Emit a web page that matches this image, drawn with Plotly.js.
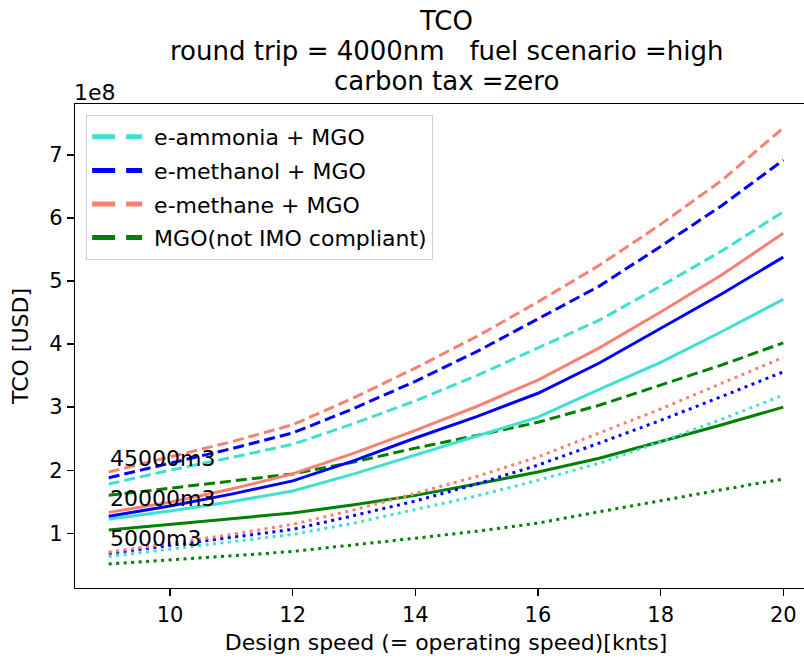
<!DOCTYPE html>
<html>
<head>
<meta charset="utf-8">
<script src="https://cdn.plot.ly/plotly-3.0.1.min.js"></script>
<style>
html,body{margin:0;padding:0;overflow:hidden;background:#fff;}
#chart{width:822px;height:660px;}
</style>
</head>
<body>
<div id="chart"></div>
<script>
// Design speed [knots]
const speeds = [9, 10, 11, 12, 13, 14, 15, 16, 17, 18, 19, 20];

// TCO values in units of 1e8 USD
// 45000 m3 (dashed)
const ammonia45000  = [1.78, 2.00, 2.20, 2.41, 2.74, 3.10, 3.50, 3.94, 4.38, 4.92, 5.48, 6.10];
const methanol45000 = [1.88, 2.11, 2.34, 2.59, 2.98, 3.41, 3.88, 4.40, 4.92, 5.55, 6.20, 6.92];
const methane45000  = [1.97, 2.21, 2.45, 2.72, 3.15, 3.62, 4.12, 4.67, 5.25, 5.90, 6.60, 7.43];
const mgo45000      = [1.60, 1.71, 1.82, 1.94, 2.13, 2.35, 2.55, 2.76, 3.03, 3.35, 3.67, 4.02];
// 20000 m3 (solid)
const ammonia20000  = [1.22, 1.35, 1.50, 1.67, 1.94, 2.24, 2.53, 2.84, 3.28, 3.71, 4.20, 4.71];
const methanol20000 = [1.27, 1.43, 1.62, 1.83, 2.15, 2.51, 2.85, 3.22, 3.70, 4.25, 4.80, 5.38];
const methane20000  = [1.33, 1.49, 1.70, 1.94, 2.27, 2.63, 3.01, 3.43, 3.94, 4.51, 5.10, 5.76];
const mgo20000      = [1.05, 1.14, 1.23, 1.32, 1.45, 1.60, 1.78, 1.97, 2.19, 2.45, 2.72, 3.00];
// 5000 m3 (dotted)
const ammonia5000   = [0.63, 0.75, 0.86, 0.98, 1.16, 1.37, 1.59, 1.84, 2.11, 2.45, 2.81, 3.19];
const methanol5000  = [0.68, 0.81, 0.93, 1.06, 1.28, 1.51, 1.78, 2.08, 2.43, 2.79, 3.17, 3.56];
const methane5000   = [0.70, 0.84, 0.98, 1.14, 1.37, 1.63, 1.90, 2.21, 2.59, 2.97, 3.38, 3.79];
const mgo5000       = [0.51, 0.57, 0.64, 0.71, 0.81, 0.92, 1.03, 1.16, 1.34, 1.52, 1.69, 1.86];

const fuelNames = ['e-ammonia + MGO', 'e-methanol + MGO', 'e-methane + MGO', 'MGO(not IMO compliant)'];
const fuelColors = ['#40E0D0', '#0000FF', '#FA8072', '#008000'];
const sizeLabels = ['45000m3', '20000m3', '5000m3'];

const groups = [
  {dash: '11px,5px', series: [ammonia45000, methanol45000, methane45000, mgo45000]},
  {dash: 'solid',    series: [ammonia20000, methanol20000, methane20000, mgo20000]},
  {dash: '3px,4.5px', series: [ammonia5000, methanol5000, methane5000, mgo5000]}
];

const traces = [];
groups.forEach(g => {
  g.series.forEach((vals, i) => {
    traces.push({
      x: speeds, y: vals, type: 'scatter', mode: 'lines',
      line: {color: fuelColors[i], width: 3, dash: g.dash},
      showlegend: false, hoverinfo: 'skip'
    });
  });
});
// legend entries
fuelNames.forEach((n, i) => {
  traces.push({
    x: [null], y: [null], type: 'scatter', mode: 'lines', name: '&nbsp;' + n,
    legendgroup: 'g' + i,
    line: {color: fuelColors[i], width: 5, dash: '23px,11px'},
    showlegend: true
  });
});

const ff = 'DejaVu Sans, sans-serif';
const font = {family: ff, size: 22, color: '#000'};
const tickFont = {family: ff, size: 21, color: '#000'};
const titleFont = {family: ff, size: 26, color: '#000'};
const plotTop = 104, plotBottom = 588, plotH = plotBottom - plotTop;
const py = p => (plotBottom - p) / plotH;

const annotations = [
  {text: 'TCO', xref: 'paper', yref: 'paper', x: 0.5, y: py(21), xanchor: 'center', yanchor: 'middle', showarrow: false, font: titleFont},
  {text: 'round trip = 4000nm&nbsp;&nbsp;&nbsp;fuel scenario =high', xref: 'paper', yref: 'paper', x: 0.5, y: py(51), xanchor: 'center', yanchor: 'middle', showarrow: false, font: titleFont},
  {text: 'carbon tax =zero', xref: 'paper', yref: 'paper', x: 0.5, y: py(81), xanchor: 'center', yanchor: 'middle', showarrow: false, font: titleFont},
  {text: '1e8', xref: 'paper', yref: 'paper', x: -0.004, y: py(92), xanchor: 'left', yanchor: 'middle', showarrow: false, font: font},
  {text: sizeLabels[0], xref: 'x', yref: 'y', x: speeds[0], y: methane45000[0], xanchor: 'left', yanchor: 'bottom', showarrow: false, font: font, borderpad: 0},
  {text: sizeLabels[1], xref: 'x', yref: 'y', x: speeds[0], y: methane20000[0], xanchor: 'left', yanchor: 'bottom', showarrow: false, font: font, borderpad: 0},
  {text: sizeLabels[2], xref: 'x', yref: 'y', x: speeds[0], y: methane5000[0], xanchor: 'left', yanchor: 'bottom', showarrow: false, font: font, borderpad: 0}
];

const layout = {
  width: 822, height: 660,
  margin: {l: 75, r: 5, t: plotTop, b: 660 - plotBottom},
  paper_bgcolor: '#fff', plot_bgcolor: '#fff',
  font: font,
  showlegend: true,
  legend: {
    x: 0.015, y: py(115), xanchor: 'left', yanchor: 'top',
    bgcolor: 'rgba(255,255,255,0.8)', bordercolor: '#d0d0d0', borderwidth: 1,
    font: font,
    tracegroupgap: 2, itemwidth: 50
  },
  xaxis: {
    range: [8.45, 20.55], tick0: 10, dtick: 2,
    showgrid: false, zeroline: false,
    showline: true, mirror: true, linecolor: '#000', linewidth: 1.3,
    ticks: 'outside', ticklen: 7, tickwidth: 1.3, tickcolor: '#000',
    tickfont: tickFont,
    title: {text: 'Design speed (= operating speed)[knts]', font: font, standoff: 9}
  },
  yaxis: {
    range: [0.13, 7.81], tick0: 1, dtick: 1,
    showgrid: false, zeroline: false,
    showline: true, mirror: true, linecolor: '#000', linewidth: 1.3,
    ticks: 'outside', ticklen: 7, tickwidth: 1.3, tickcolor: '#000',
    tickfont: tickFont,
    title: {text: 'TCO [USD]', font: font, standoff: 14}
  },
  annotations: annotations
};

Plotly.newPlot('chart', traces, layout, {displayModeBar: false, staticPlot: true});
</script>
</body>
</html>
